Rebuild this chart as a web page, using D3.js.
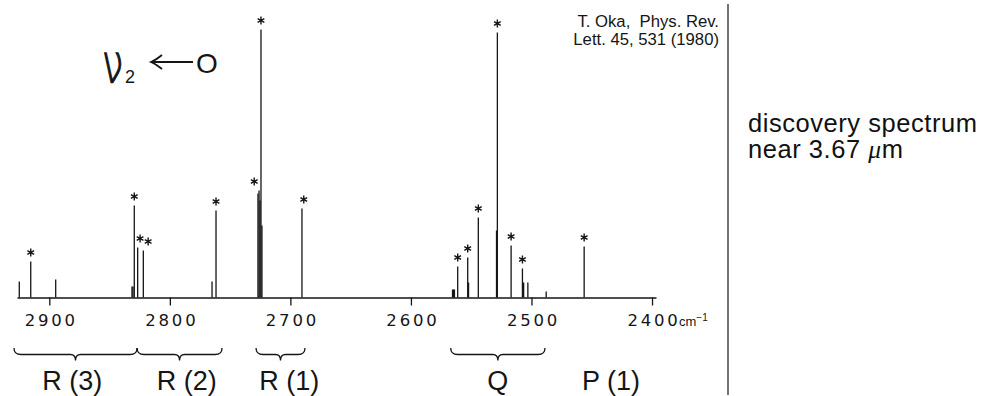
<!DOCTYPE html>
<html>
<head>
<meta charset="utf-8">
<script src="https://cdn.jsdelivr.net/npm/d3@7"></script>
<style>
  html, body { margin: 0; padding: 0; background: #fff; }
  svg { display: block; }
</style>
</head>
<body>
<svg id="chart" width="983" height="396"></svg>
<script>
// ---- data (wavenumber in cm^-1, intensity in arbitrary units) ----
const peakWn  = [2924.9, 2915.4, 2894.7, 2831.4, 2830.6, 2829.5, 2826.7, 2822.0,
                 2765.0, 2761.7, 2726.9, 2726.0, 2725.2, 2724.4, 2723.6, 2690.4,
                 2565.5, 2564.7, 2563.9, 2561.2, 2552.9, 2552.2, 2544.1, 2529.0,
                 2528.3, 2516.9, 2507.5, 2506.5, 2503.0, 2487.8, 2456.3];
const peakInt = [16, 36, 18, 11, 11, 92, 50, 47,
                 16, 87, 104, 107, 97, 268, 72, 89,
                 8, 8, 8, 31, 40, 15, 80, 67,
                 265, 52, 29, 15, 15, 6, 51];
// assigned (starred) lines and the small sideways shift of their asterisk, in cm^-1
const starredWn    = [2915.4, 2829.5, 2826.7, 2822.0, 2761.7, 2726.0, 2724.4, 2690.4,
                      2561.2, 2552.9, 2544.1, 2528.3, 2516.9, 2507.5, 2456.3];
const starShiftWn  = [0, 0, -2, -4, 0, 4, 0, -1.5, 0, 0, 0, 0, 0, 0, 0];
const tickValues   = [2900, 2800, 2700, 2600, 2500, 2400];
const branchLabels = ["R (3)", "R (2)", "R (1)", "Q", "P (1)"];
const branchCenter = [2881, 2786, 2701, 2528, 2434];
const braceFrom    = [2929.3, 2827.2, 2728.5, 2567.0];
const braceTo      = [2827.2, 2756.7, 2687.9, 2488.8];
const citation     = ["T. Oka,  Phys. Rev.", "Lett. 45, 531 (1980)"];
const noteLines    = ["discovery spectrum", "near 3.67 "];
const domainWn     = [2926.8, 2396.7];
const intensityMax = 280;

// ---- drawing ----
const svg = d3.select("#chart");
const x = d3.scaleLinear().domain(domainWn).range([17, 656]);
const y = d3.scaleLinear().domain([0, intensityMax]).range([297.5, 17.5]);
const ink = "#151515";

// spectral lines
svg.append("g").selectAll("line")
  .data(peakWn.map((w, i) => ({w, v: peakInt[i]})))
  .join("line")
  .attr("x1", d => x(d.w)).attr("x2", d => x(d.w))
  .attr("y1", y(0)).attr("y2", d => y(d.v))
  .attr("stroke", ink).attr("stroke-width", 1.3);

// asterisks
const star = d3.symbol().type(d3.symbolAsterisk).size(42);
svg.append("g").selectAll("path")
  .data(starredWn.map((w, i) => ({w, v: peakInt[peakWn.indexOf(w)], s: starShiftWn[i]})))
  .join("path")
  .attr("d", star)
  .attr("transform", d => `translate(${x(d.w + d.s)},${y(d.v) - 9})`)
  .attr("fill", "none").attr("stroke", ink).attr("stroke-width", 1.4);

// axis
const axis = d3.axisBottom(x).tickValues(tickValues).tickSize(8).tickSizeOuter(0)
  .tickFormat(d3.format("d"));
const gAxis = svg.append("g").attr("transform", `translate(0,${y(0)})`).call(axis);
gAxis.select(".domain").attr("stroke", ink).attr("stroke-width", 1.6);
gAxis.selectAll(".tick line").attr("stroke", ink).attr("stroke-width", 1.3);
gAxis.selectAll(".tick text")
  .attr("y", 28.5).attr("dy", "0").attr("dx", "1.5")
  .attr("fill", ink)
  .style("font-family", "'DejaVu Sans', sans-serif")
  .style("font-size", "16.5px")
  .style("letter-spacing", "2.8px");

// unit label
const unit = svg.append("text")
  .attr("x", x(2400) + 27).attr("y", 325.5)
  .attr("fill", ink)
  .style("font-family", "'Liberation Sans', Arial, sans-serif")
  .style("font-size", "13px");
unit.append("tspan").text("cm");
unit.append("tspan").attr("dy", -5).style("font-size", "10px").text("\u22121");

// braces
const braceY0 = 348, braceY1 = 354.5, braceY2 = 360.5;
function bracePath(a, b) {
  const x1 = x(a), x2 = x(b), xm = (x1 + x2) / 2;
  return `M${x1},${braceY0} Q${x1},${braceY1} ${x1 + 7},${braceY1}` +
         ` L${xm - 5},${braceY1} Q${xm},${braceY1} ${xm},${braceY2}` +
         ` Q${xm},${braceY1} ${xm + 5},${braceY1}` +
         ` L${x2 - 7},${braceY1} Q${x2},${braceY1} ${x2},${braceY0}`;
}
svg.append("g").selectAll("path")
  .data(braceFrom.map((a, i) => [a, braceTo[i]]))
  .join("path")
  .attr("d", d => bracePath(d[0], d[1]))
  .attr("fill", "none").attr("stroke", ink).attr("stroke-width", 1.3);

// branch labels
svg.append("g").selectAll("text")
  .data(branchLabels.map((t, i) => ({t, w: branchCenter[i]})))
  .join("text")
  .attr("x", d => x(d.w)).attr("y", 390)
  .attr("text-anchor", "middle")
  .attr("fill", ink)
  .style("font-family", "'Liberation Sans', Arial, sans-serif")
  .style("font-size", "27px")
  .text(d => d.t);

// transition label  nu_2 <-- 0
const tl = svg.append("g");
tl.append("text")
  .attr("transform", "translate(102,82) scale(0.72,1)")
  .attr("fill", ink)
  .attr("stroke", ink).attr("stroke-width", 1.3)
  .style("font-family", "'DejaVu Sans', sans-serif")
  .style("font-size", "53px").style("font-weight", "200")
  .text("\u03BD");
tl.append("text").attr("x", 125).attr("y", 83)
  .attr("fill", ink)
  .style("font-family", "'Liberation Sans', Arial, sans-serif")
  .style("font-size", "18px")
  .text("2");
tl.append("path")
  .attr("d", "M151,62 L193,62 M162,55 Q156,60 151,62 Q156,64 162,69")
  .attr("fill", "none").attr("stroke", ink).attr("stroke-width", 1.8);
tl.append("text").attr("x", 196).attr("y", 73)
  .attr("fill", ink)
  .style("font-family", "'Liberation Sans', Arial, sans-serif")
  .style("font-size", "28px")
  .text("O");

// citation
svg.append("g").selectAll("text")
  .data(citation)
  .join("text")
  .attr("x", 719).attr("y", (d, i) => 27 + i * 18)
  .attr("text-anchor", "end")
  .attr("fill", ink)
  .style("white-space", "pre")
  .attr("xml:space", "preserve")
  .style("font-family", "'Liberation Sans', Arial, sans-serif")
  .style("font-size", "16.7px")
  .text(d => d);

// separator line
svg.append("line")
  .attr("x1", 728).attr("x2", 728).attr("y1", 4).attr("y2", 395)
  .attr("stroke", "#444").attr("stroke-width", 1.5);

// side note
const note = svg.append("g")
  .style("font-family", "'Liberation Sans', Arial, sans-serif")
  .style("font-size", "25.5px").style("letter-spacing", "0.55px").attr("fill", "#111");
note.append("text").attr("x", 748).attr("y", 132).text(noteLines[0]);
const l2 = note.append("text").attr("x", 748).attr("y", 158);
l2.append("tspan").text(noteLines[1]);
l2.append("tspan").style("font-family", "'Liberation Serif', 'Times New Roman', serif")
  .style("font-style", "italic").text("\u03BC");
l2.append("tspan").text("m");
</script>
</body>
</html>
